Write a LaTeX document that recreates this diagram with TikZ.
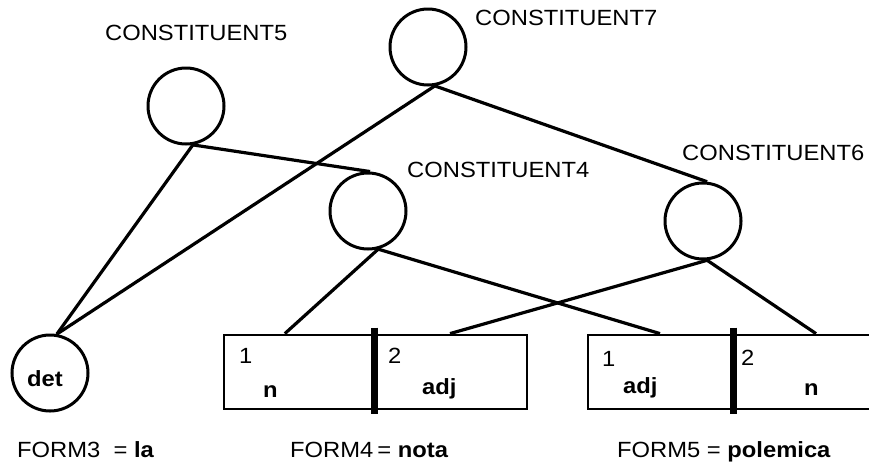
\documentclass[tikz,border=0pt]{standalone}
\usepackage{fontspec}
\setmainfont{Liberation Sans}[FakeStretch=1.08]
\usetikzlibrary{calc}
\tikzset{const/.style = {draw, circle, line width = 3pt, minimum size = 76pt, inner sep = 0}}
\tikzset{cell/.style = {draw, rectangle, line width = 2.8pt, minimum height = 74pt, inner sep = 0}}
\tikzset{lbl/.style = {font = \fontsize{22}{26}\selectfont, inner sep = 0, anchor = base west}}
\tikzset{edge/.style = {line width = 3.2pt}}
\tikzset{divider/.style = {line width = 7.5pt}}

\begin{document}
\begin{tikzpicture}[x = 1pt, y = -1pt]
      \useasboundingbox (0, 0) rectangle (869, 467);
      \node [const] (c7) at (428, 47) {};
      \node [const] (c5) at (186, 106) {};
      \node [const] (c4) at (368, 211) {};
      \node [const] (c6) at (703, 221) {};
      \node [const] (det) at (50, 373) {};
      \node [lbl] (det-l) at (27, 386) {\textbf{det}};

      \node [lbl] (c7-l) at (475, 25) {CONSTITUENT7};
      \node [lbl] (c5-l) at (105, 40) {CONSTITUENT5};
      \node [lbl] (c4-l) at (407, 177) {CONSTITUENT4};
      \node [lbl] (c6-l) at (682, 160) {CONSTITUENT6};

      \node [cell, minimum width = 149pt] (f4a) at (298.5, 372) {};
      \node [cell, minimum width = 154pt] (f4b) at (450, 372) {};
      \node [cell, minimum width = 144pt] (f5a) at (660, 372) {};
      \node [cell, minimum width = 168pt] (f5b) at (816, 372) {};
      \draw [divider] ($(f4a.north east) + (0, -6)$) -- ($(f4a.south east) + (0, 4)$);
      \draw [divider] ($(f5a.north east) + (0, -6)$) -- ($(f5a.south east) + (0, 4)$);

      \node [lbl] (f4a-n) at (239, 363) {1};
      \node [lbl] (f4a-t) at (263, 397) {\textbf{n}};
      \node [lbl] (f4b-n) at (388, 363) {2};
      \node [lbl] (f4b-t) at (422, 394) {\textbf{adj}};
      \node [lbl] (f5a-n) at (602, 366) {1};
      \node [lbl] (f5a-t) at (623, 393) {\textbf{adj}};
      \node [lbl] (f5b-n) at (741, 365) {2};
      \node [lbl] (f5b-t) at (804, 395) {\textbf{n}};

      \draw [edge] (c7.-80) -- (det.80);
      \draw [edge] (c5.-80) -- (det.80);
      \draw [edge] (c5.-80) -- (c4.87);
      \draw [edge] (c7.-80) -- (c6.84);
      \draw [edge] (c4.-75) -- ($(f4a.north west)!0.41!(f4a.north east)$);
      \draw [edge] (c4.-75) -- (f5a.north);
      \draw [edge] (c6.-84) -- (f4b.north);
      \draw [edge] (c6.-84) -- (f5b.north);

      \node [lbl] (form3) at (17, 457) {FORM3\ \ = \textbf{la}};
      \node [lbl] (form4) at (290, 457) {FORM4\kern4pt= \textbf{nota}};
      \node [lbl] (form5) at (617, 457) {FORM5 = \textbf{polemica}};
    \end{tikzpicture}
\end{document}
